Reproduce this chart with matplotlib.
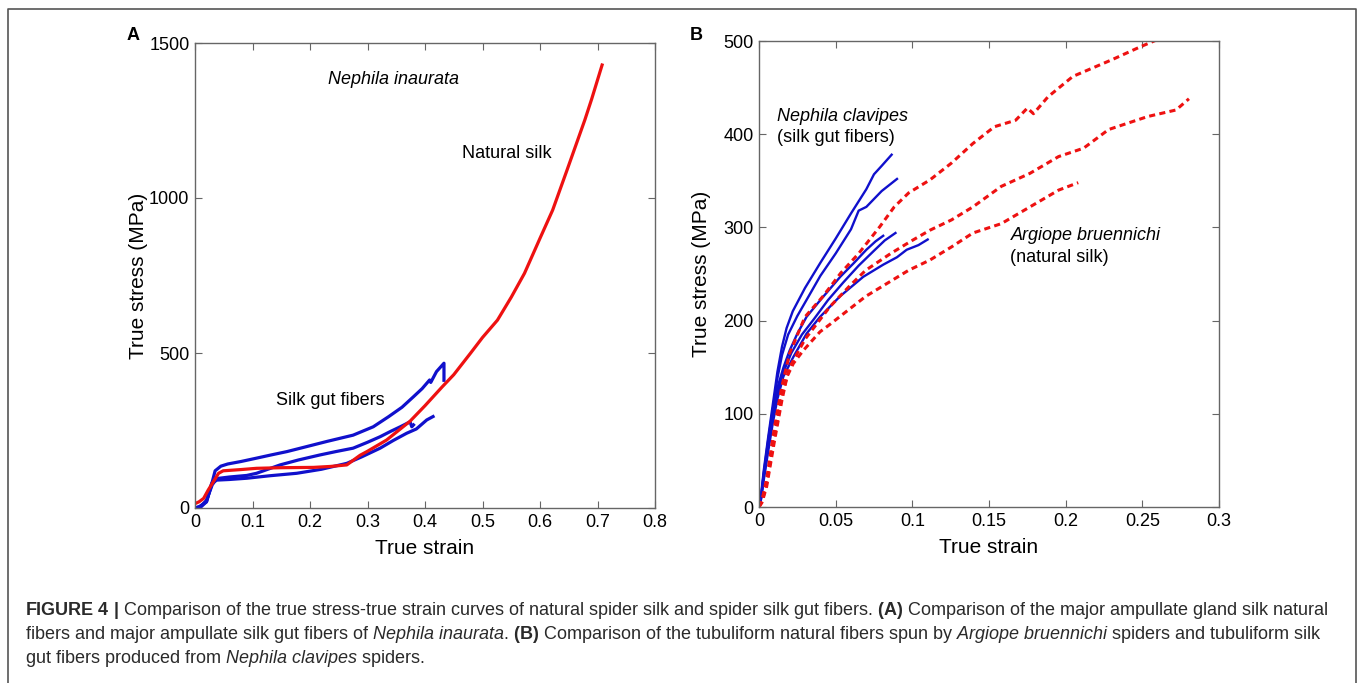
import matplotlib
matplotlib.use("Agg")
import matplotlib.pyplot as plt
from matplotlib.lines import Line2D

plt.rcParams["font.family"] = ["Liberation Sans", "DejaVu Sans"]
plt.rcParams["mathtext.fontset"] = "custom"
plt.rcParams["mathtext.rm"] = "Liberation Sans"
plt.rcParams["mathtext.it"] = "Liberation Sans:italic"
plt.rcParams["mathtext.bf"] = "Liberation Sans:bold"

# ---- panel A: Nephila inaurata, natural silk vs silk gut fibers ----
natA_x = [0, 0.007, 0.015, 0.023, 0.032, 0.041, 0.049, 0.08, 0.107, 0.15, 0.206,
          0.235, 0.264, 0.287, 0.299, 0.333, 0.374, 0.40, 0.43, 0.45, 0.479, 0.50,
          0.526, 0.55, 0.573, 0.60, 0.622, 0.647, 0.678, 0.69, 0.708]
natA_y = [14, 20, 31, 58, 85, 112, 120, 124, 128, 130, 131,
          134, 139, 170, 182, 219, 280, 330, 391, 430, 499, 550,
          606, 680, 757, 870, 961, 1090, 1252, 1320, 1429]

gutA1_x = [0, 0.007, 0.02, 0.028, 0.035, 0.045, 0.057, 0.08, 0.105, 0.132, 0.16,
           0.194, 0.23, 0.275, 0.31, 0.337, 0.36, 0.38, 0.395, 0.408, 0.41, 0.42,
           0.433, 0.433]
gutA1_y = [0, 4, 20, 70, 120, 135, 142, 150, 160, 171, 182,
           198, 215, 235, 262, 295, 325, 359, 385, 413, 405, 440,
           467, 412]

gutA2_x = [0, 0.01, 0.02, 0.03, 0.038, 0.06, 0.09, 0.107, 0.148, 0.18, 0.217,
           0.245, 0.275, 0.3, 0.322, 0.34, 0.357, 0.374, 0.377, 0.38]
gutA2_y = [0, 5, 25, 75, 95, 100, 105, 112, 139, 155, 171,
           182, 193, 212, 230, 247, 262, 278, 262, 268]

gutA3_x = [0, 0.01, 0.02, 0.029, 0.038, 0.06, 0.09, 0.13, 0.177, 0.22, 0.264,
           0.29, 0.322, 0.345, 0.368, 0.385, 0.403, 0.414]
gutA3_y = [0, 3, 20, 80, 90, 92, 96, 104, 112, 125, 144,
           165, 193, 218, 241, 255, 284, 295]

# ---- panel B: Nephila clavipes gut fibers vs Argiope bruennichi natural silk ----
gutB = [
    ([0, 0.001, 0.003, 0.006, 0.009, 0.012, 0.015, 0.018, 0.022, 0.03, 0.04, 0.05,
      0.06, 0.07, 0.075, 0.08, 0.0865],
     [0, 7, 38, 75, 110, 145, 172, 192, 210, 235, 262, 288,
      315, 341, 357, 366, 378]),
    ([0, 0.001, 0.003, 0.006, 0.009, 0.012, 0.015, 0.019, 0.025, 0.032, 0.04, 0.05,
      0.06, 0.065, 0.07, 0.08, 0.09],
     [0, 6, 35, 72, 105, 138, 163, 185, 205, 225, 248, 272,
      298, 318, 322, 339, 352]),
    ([0, 0.001, 0.003, 0.006, 0.009, 0.012, 0.016, 0.02, 0.025, 0.031, 0.04, 0.053,
      0.062, 0.07, 0.076, 0.081],
     [0, 6, 33, 68, 100, 128, 150, 168, 186, 204, 222, 247,
      262, 276, 285, 291]),
    ([0, 0.001, 0.003, 0.006, 0.009, 0.012, 0.016, 0.021, 0.028, 0.036, 0.045, 0.055,
      0.065, 0.075, 0.082, 0.089],
     [0, 5, 30, 64, 96, 122, 145, 165, 185, 202, 222, 241,
      259, 275, 286, 294]),
    ([0, 0.001, 0.003, 0.006, 0.009, 0.012, 0.0159, 0.0224, 0.031, 0.0398, 0.0528,
      0.068, 0.081, 0.09, 0.0963, 0.104, 0.110],
     [0, 5, 28, 60, 90, 116, 140, 161, 186, 204, 226,
      247, 260, 268, 276, 281, 287]),
]

natB = [
    ([0, 0.002, 0.005, 0.01, 0.015, 0.02, 0.03, 0.0417, 0.0533, 0.065, 0.0789, 0.0882,
      0.0976, 0.1115, 0.1255, 0.1395, 0.1535, 0.1674, 0.175, 0.179, 0.1884, 0.2047,
      0.2303, 0.249, 0.262],
     [0, 8, 30, 85, 130, 165, 204, 226, 251, 272, 301, 322,
      337, 351, 369, 390, 408, 415, 428, 422, 440, 462,
      480, 494, 503]),
    ([0, 0.002, 0.005, 0.01, 0.015, 0.02, 0.03, 0.0463, 0.0596, 0.0696, 0.0859, 0.0999,
      0.1115, 0.1255, 0.1395, 0.158, 0.1767, 0.1954, 0.2117, 0.228, 0.2536, 0.272,
      0.2804],
     [0, 6, 25, 75, 120, 150, 180, 215, 238, 254, 272, 286,
      297, 308, 322, 344, 358, 376, 385, 405, 419, 426,
      438]),
    ([0, 0.002, 0.005, 0.01, 0.015, 0.0183, 0.0224, 0.0289, 0.0398, 0.0463, 0.0556,
      0.0696, 0.0836, 0.0976, 0.1115, 0.1255, 0.1395, 0.158, 0.1767, 0.1954, 0.2082],
     [0, 5, 22, 70, 115, 140, 154, 168, 188, 196, 208,
      226, 240, 254, 265, 279, 294, 304, 322, 340, 348]),
]

xticksA = [0, 0.1, 0.2, 0.3, 0.4, 0.5, 0.6, 0.7, 0.8]
xlabelsA = ["0", "0.1", "0.2", "0.3", "0.4", "0.5", "0.6", "0.7", "0.8"]
yticksA = [0, 500, 1000, 1500]
xticksB = [0, 0.05, 0.1, 0.15, 0.2, 0.25, 0.3]
xlabelsB = ["0", "0.05", "0.1", "0.15", "0.2", "0.25", "0.3"]
yticksB = [0, 100, 200, 300, 400, 500]

BLUE = "#1010cc"
RED = "#ee1111"
GRAY = "#666666"

W, H = 1357, 683
fig = plt.figure(figsize=(W / 100, H / 100), dpi=100)


def style_axes(ax):
    for s in ax.spines.values():
        s.set_color(GRAY)
        s.set_linewidth(1.0)
    ax.tick_params(direction="in", top=True, right=True, length=5, width=0.8,
                   color=GRAY, labelsize=13, pad=4)


axA = fig.add_axes([195 / W, 1 - 508 / H, 460 / W, 465 / H])
axA.plot(gutA1_x, gutA1_y, color=BLUE, lw=2.3)
axA.plot(gutA2_x, gutA2_y, color=BLUE, lw=2.3)
axA.plot(gutA3_x, gutA3_y, color=BLUE, lw=2.3)
axA.plot(natA_x, natA_y, color=RED, lw=2.3)
axA.set_xlim(0, 0.8)
axA.set_ylim(0, 1500)
axA.set_xticks(xticksA)
axA.set_xticklabels(xlabelsA)
axA.set_yticks(yticksA)
axA.set_yticklabels([str(v) for v in yticksA])
axA.set_xlabel("True strain", fontsize=15, labelpad=6)
axA.set_ylabel("True stress (MPa)", fontsize=15, labelpad=1)
style_axes(axA)
axA.text(0.231, 1381, "Nephila inaurata", fontsize=13, style="italic", va="center")
axA.text(0.464, 1144, "Natural silk", fontsize=13, va="center")
axA.text(0.141, 348, "Silk gut fibers", fontsize=13, va="center")

axB = fig.add_axes([759 / W, 1 - 507 / H, 460 / W, 466 / H])
for xs, ys in gutB:
    axB.plot(xs, ys, color=BLUE, lw=1.7)
for xs, ys in natB:
    axB.plot(xs, ys, color=RED, lw=2.2, linestyle=(0, (2, 1.4)))
axB.set_xlim(0, 0.3)
axB.set_ylim(0, 500)
axB.set_xticks(xticksB)
axB.set_xticklabels(xlabelsB)
axB.set_yticks(yticksB)
axB.set_yticklabels([str(v) for v in yticksB])
axB.set_xlabel("True strain", fontsize=15, labelpad=6)
axB.set_ylabel("True stress (MPa)", fontsize=15, labelpad=9)
style_axes(axB)
axB.text(0.0117, 419, "Nephila clavipes", fontsize=13, style="italic", va="center")
axB.text(0.0117, 396, "(silk gut fibers)", fontsize=13, va="center")
axB.text(0.164, 291, "Argiope bruennichi", fontsize=13, style="italic", va="center")
axB.text(0.164, 268, "(natural silk)", fontsize=13, va="center")

# panel letters
fig.text(133 / W, 1 - 35 / H, "A", fontsize=13, weight="bold", ha="center", va="center")
fig.text(696 / W, 1 - 36 / H, "B", fontsize=13, weight="bold", ha="center", va="center")

# outer frame (left, top, right)
fx0, fx1, fy = 8 / W, 1356 / W, 1 - 9 / H
fig.add_artist(Line2D([fx0, fx0, fx1, fx1], [0, fy, fy, 0], transform=fig.transFigure,
                      color="#555555", lw=1.2))

# caption
cap = [
    r"$\mathbf{FIGURE\ 4\ |}$ Comparison of the true stress-true strain curves of natural "
    r"spider silk and spider silk gut fibers. $\mathbf{(A)}$ Comparison of the major "
    r"ampullate gland silk natural",
    r"fibers and major ampullate silk gut fibers of $\mathit{Nephila\ inaurata}$. "
    r"$\mathbf{(B)}$ Comparison of the tubuliform natural fibers spun by "
    r"$\mathit{Argiope\ bruennichi}$ spiders and tubuliform silk",
    r"gut fibers produced from $\mathit{Nephila\ clavipes}$ spiders.",
]
for i, line in enumerate(cap):
    fig.text(25 / W, 1 - (615 + 24 * i) / H, line, fontsize=13, color="#2a2a2a",
             va="baseline", ha="left")

fig.savefig("out.png", dpi=100)
